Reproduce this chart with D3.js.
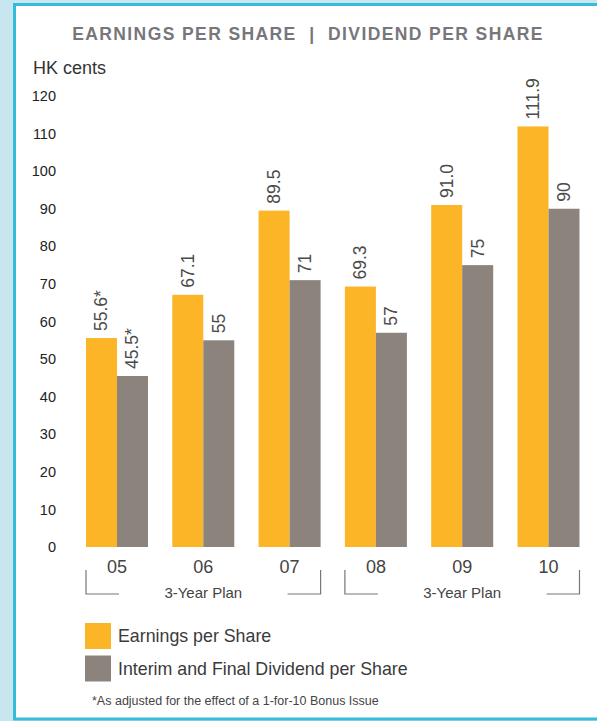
<!DOCTYPE html>
<html>
<head>
<meta charset="utf-8">
<script src="https://cdn.jsdelivr.net/npm/d3@7"></script>
<style>
  html, body { margin: 0; padding: 0; background: #c7e6ef; }
  svg { display: block; font-family: "Liberation Sans", Arial, Helvetica, sans-serif; }
  .title { white-space: pre; }
</style>
</head>
<body>
<svg id="chart" width="597" height="721"></svg>
<script>
// Financial years shown along the x axis
const years = ["05", "06", "07", "08", "09", "10"];
// Earnings per share, HK cents
const earnings = [55.6, 67.1, 89.5, 69.3, 91.0, 111.9];
const earningsLabels = ["55.6*", "67.1", "89.5", "69.3", "91.0", "111.9"];
// Interim and final dividend per share, HK cents
const dividends = [45.5, 55, 71, 57, 75, 90];
const dividendLabels = ["45.5*", "55", "71", "57", "75", "90"];
// y axis ticks
const yTicks = [0, 10, 20, 30, 40, 50, 60, 70, 80, 90, 100, 110, 120];
// Plan periods grouping the years
const plans = [
  { label: "3-Year Plan", from: "05", to: "07" },
  { label: "3-Year Plan", from: "08", to: "10" }
];
const seriesNames = ["Earnings per Share", "Interim and Final Dividend per Share"];

const YELLOW = "#fcb526";
const GREY = "#8c837c";

const svg = d3.select("#chart");

// Panel with cyan border
svg.append("rect")
  .attr("x", 14.5).attr("y", 4.5)
  .attr("width", 620).attr("height", 714.5)
  .attr("fill", "#ffffff")
  .attr("stroke", "#35bcd9").attr("stroke-width", 3);

// Title
svg.append("text")
  .attr("class", "title")
  .attr("x", 308).attr("y", 40)
  .attr("text-anchor", "middle")
  .attr("font-size", 17.5).attr("font-weight", "bold")
  .attr("letter-spacing", 1.4)
  .attr("fill", "#77777b")
  .text("EARNINGS PER SHARE  |  DIVIDEND PER SHARE");

svg.append("text")
  .attr("x", 33).attr("y", 74)
  .attr("font-size", 18).attr("fill", "#333")
  .text("HK cents");

// Scales
const x = d3.scaleBand().domain(years).range([86, 579.5]).paddingInner(0.2816).paddingOuter(0);
const inner = d3.scaleBand().domain(["eps", "dps"]).range([0, x.bandwidth()]);
const y = d3.scaleLinear().domain([0, 120]).range([547, 96]);

// y axis labels (no line)
const yAxis = d3.axisLeft(y).tickValues(yTicks).tickSize(0).tickPadding(0);
const yg = svg.append("g").attr("transform", "translate(56,0)").call(yAxis);
yg.select(".domain").remove();
yg.selectAll("text")
  .attr("font-size", 14.5).attr("fill", "#222")
  .attr("font-family", "'Liberation Sans', Arial, sans-serif");

// Bars
const groups = svg.append("g").selectAll("g")
  .data(years.map((yr, i) => ({ yr, eps: earnings[i], dps: dividends[i], epsL: earningsLabels[i], dpsL: dividendLabels[i] })))
  .join("g")
  .attr("transform", d => `translate(${x(d.yr)},0)`);

groups.append("rect")
  .attr("x", inner("eps")).attr("width", inner.bandwidth())
  .attr("y", d => y(d.eps)).attr("height", d => y(0) - y(d.eps))
  .attr("fill", YELLOW);
groups.append("rect")
  .attr("x", inner("dps")).attr("width", inner.bandwidth())
  .attr("y", d => y(d.dps)).attr("height", d => y(0) - y(d.dps))
  .attr("fill", GREY);

// Rotated value labels
function valueLabel(key, labelKey) {
  groups.append("text")
    .attr("transform", d => `translate(${inner(key) + inner.bandwidth() / 2 + 6},${y(d[key]) - 7}) rotate(-90)`)
    .attr("font-size", 17.5).attr("fill", "#4a4a4a")
    .text(d => d[labelKey]);
}
valueLabel("eps", "epsL");
valueLabel("dps", "dpsL");

// x axis labels
const xAxis = d3.axisBottom(x).tickSize(0).tickPadding(0);
const xg = svg.append("g").attr("transform", "translate(0,556)").call(xAxis);
xg.select(".domain").remove();
xg.selectAll("text")
  .attr("font-size", 18).attr("fill", "#444").attr("dy", "0.95em")
  .attr("font-family", "'Liberation Sans', Arial, sans-serif");

// Plan brackets
const bracketTop = 570, bracketBottom = 594;
plans.forEach(p => {
  const left = x(p.from);
  const right = x(p.to) + x.bandwidth();
  const g = svg.append("g").attr("fill", "none").attr("stroke", "#77777b").attr("stroke-width", 1.2);
  g.append("path").attr("d", `M${left},${bracketTop}V${bracketBottom}H${left + 33}`);
  g.append("path").attr("d", `M${right - 33},${bracketBottom}H${right}V${bracketTop}`);
  svg.append("text")
    .attr("x", (left + right) / 2).attr("y", 598)
    .attr("text-anchor", "middle")
    .attr("font-size", 15).attr("fill", "#444")
    .text(p.label);
});

// Legend
const legend = svg.append("g").attr("transform", "translate(85,623)");
[YELLOW, GREY].forEach((c, i) => {
  legend.append("rect").attr("x", 0).attr("y", i * 32.5).attr("width", 26).attr("height", 26).attr("fill", c);
  legend.append("text").attr("x", 33).attr("y", i * 32.5 + 19)
    .attr("font-size", 17.8).attr("fill", "#3a3a3a").text(seriesNames[i]);
});

svg.append("text")
  .attr("x", 92).attr("y", 705)
  .attr("font-size", 12.5).attr("fill", "#444")
  .text("*As adjusted for the effect of a 1-for-10 Bonus Issue");
</script>
</body>
</html>
